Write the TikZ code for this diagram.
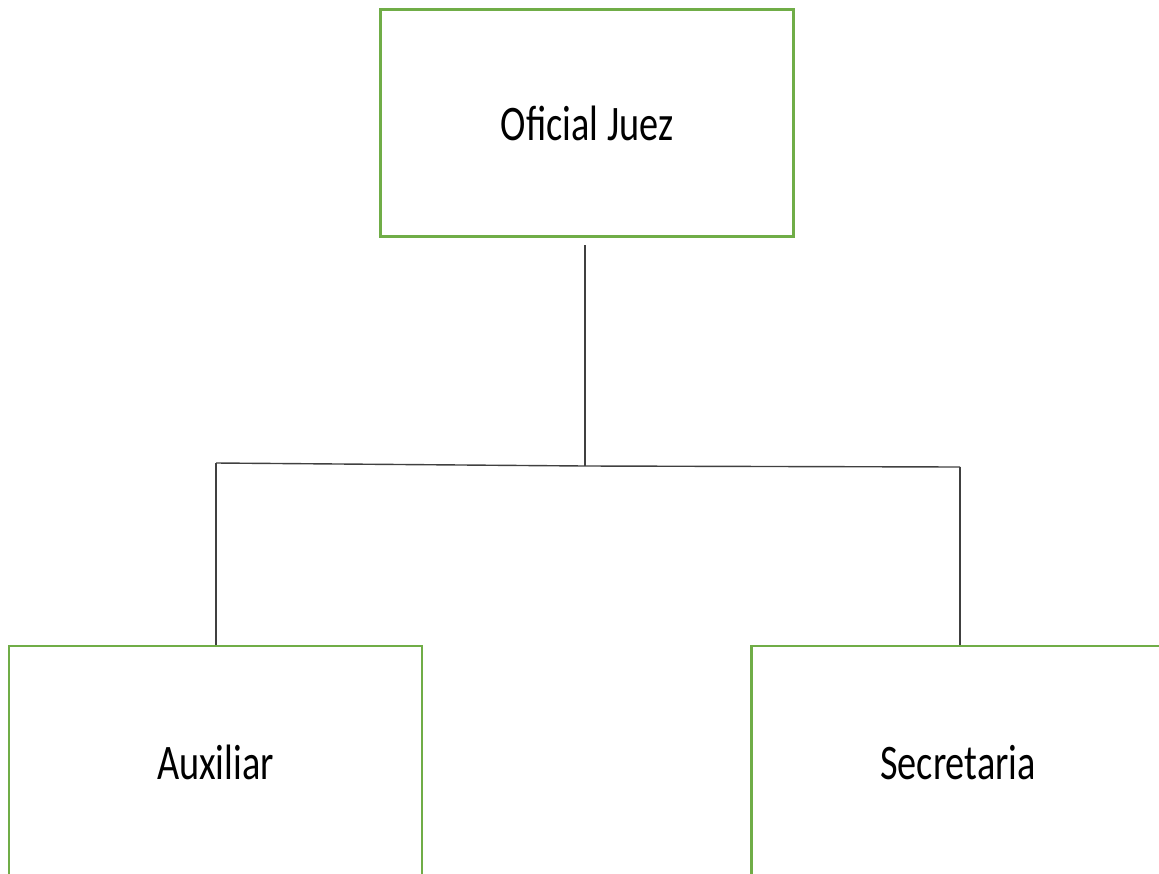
\documentclass[tikz,border=0pt]{standalone}
\usepackage{fontspec}
\newfontfamily\calibri{Carlito}
\definecolor{officegreen}{RGB}{112,173,71}
\begin{document}
\begin{tikzpicture}[x=1pt, y=-1pt,
    cargo/.style={draw=officegreen, line width=2.8pt, rectangle,
      minimum width=413pt, minimum height=227pt, inner sep=0pt,
      font=\calibri\fontsize{49.7}{60}\selectfont},
    enlace/.style={draw=black!75, line width=1.4pt}]
  \useasboundingbox (0,0) rectangle (1159,873);
  %--- Boxes (the lower two run off the page)
  \node[cargo] (juez) at (587,123) {\scalebox{0.77}[1]{Oficial Juez}};
  \node[cargo, minimum height=236pt] (aux) at (215.5,764)
    {\raisebox{4pt}{\scalebox{0.77}[1]{Auxiliar}}};
  \node[cargo, minimum height=236pt] (sec) at (958,764)
    {\raisebox{4pt}{\scalebox{0.77}[1]{Secretaria}}};
  %--- Bus points
  \coordinate (arriba) at (585,245);
  \coordinate (busM) at (585,466);
  \coordinate (busL) at (216,463);
  \coordinate (busR) at (960,467);
  %--- Connectors
  \draw[enlace] (arriba) -- (busM);
  \draw[enlace] (busL) -- (busM) -- (busR);
  \draw[enlace] (busL) -- (busL |- aux.north);
  \draw[enlace] (busR) -- (busR |- sec.north);
\end{tikzpicture}
\end{document}
